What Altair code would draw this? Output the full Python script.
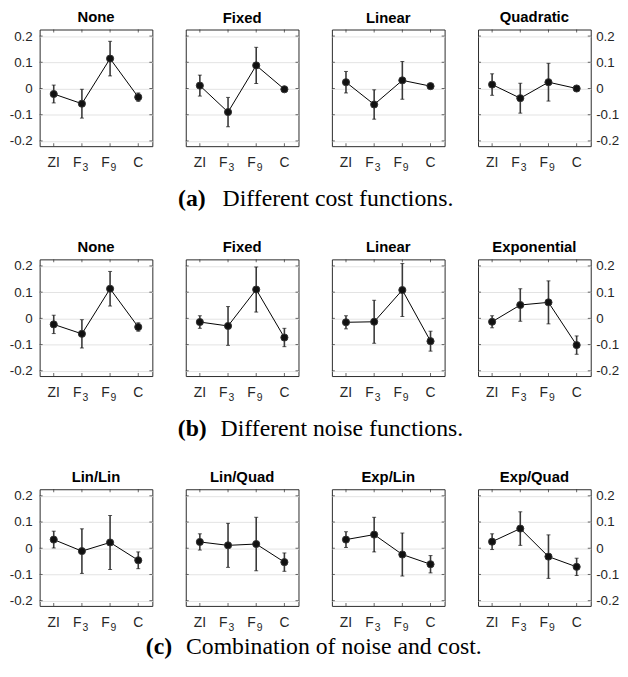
import altair as alt
import pandas as pd

# ---------------- data ----------------
categories = ["ZI", "F3", "F9", "C"]
cat_main = ["ZI", "F", "F", "C"]
cat_sub = ["", "3", "9", ""]
y_ticks = [-0.2, -0.1, 0.0, 0.1, 0.2]

row_a_titles = ["None", "Fixed", "Linear", "Quadratic"]
row_a_means = [
    [-0.021, -0.058, 0.114, -0.033],
    [0.011, -0.090, 0.088, -0.003],
    [0.024, -0.061, 0.031, 0.009],
    [0.015, -0.037, 0.024, 0.000],
]
row_a_errs = [
    [0.034, 0.055, 0.066, 0.016],
    [0.040, 0.056, 0.069, 0.007],
    [0.041, 0.056, 0.072, 0.008],
    [0.041, 0.057, 0.072, 0.008],
]

row_b_titles = ["None", "Fixed", "Linear", "Exponential"]
row_b_means = [
    [-0.023, -0.059, 0.113, -0.033],
    [-0.014, -0.029, 0.110, -0.073],
    [-0.015, -0.013, 0.108, -0.087],
    [-0.013, 0.051, 0.061, -0.102],
]
row_b_errs = [
    [0.035, 0.054, 0.066, 0.016],
    [0.024, 0.074, 0.086, 0.035],
    [0.025, 0.082, 0.101, 0.038],
    [0.023, 0.062, 0.082, 0.035],
]

row_c_titles = ["Lin/Lin", "Lin/Quad", "Exp/Lin", "Exp/Quad"]
row_c_means = [
    [0.033, -0.011, 0.022, -0.046],
    [0.024, 0.011, 0.016, -0.053],
    [0.033, 0.052, -0.024, -0.061],
    [0.025, 0.075, -0.032, -0.071],
]
row_c_errs = [
    [0.032, 0.085, 0.103, 0.032],
    [0.031, 0.084, 0.102, 0.035],
    [0.030, 0.066, 0.082, 0.033],
    [0.030, 0.064, 0.083, 0.033],
]

caption_labels = ["(a)", "(b)", "(c)"]
caption_texts = [
    "Different cost functions.",
    "Different noise functions.",
    "Combination of noise and cost.",
]

# ---------------- layout / style ----------------
W, H = 114, 118
Y_DOMAIN = [-0.22, 0.225]
CAP_LABEL_X = [168, 169, 134]
CAP_TEXT_X = [185, 183, 148]
CAP_Y = [179, 178.5, 167]
DARK = "#262626"
SANS = "Liberation Sans"
SERIF = "Liberation Serif"

label_expr = ("datum.value == 0 ? '0' : (datum.value < 0 ? '-' + format(-datum.value, '.1f')"
              " : format(datum.value, '.1f'))")


def panel(title, means, errs, position, cap_idx=None):
    df = pd.DataFrame({"cat": categories, "main": cat_main, "sub": cat_sub,
                       "mean": means, "err": errs})
    base = alt.Chart(df).transform_calculate(lo="datum.mean - datum.err",
                                             hi="datum.mean + datum.err")
    xscale = alt.Scale(type="point", domain=categories, padding=0.5)
    xenc = alt.X("cat:N", scale=xscale, axis=None)
    yscale = alt.Scale(domain=Y_DOMAIN, nice=False, zero=False)

    if position == "left":
        yaxis = alt.Axis(orient="left", values=y_ticks, labelExpr=label_expr, ticks=False,
                         domain=False, grid=True, labelPadding=7.5, title=None)
    elif position == "right":
        yaxis = alt.Axis(orient="right", values=y_ticks, labelExpr=label_expr, ticks=False,
                         domain=False, grid=True, labelPadding=5, title=None)
    else:
        yaxis = alt.Axis(values=y_ticks, labels=False, ticks=False, domain=False,
                         grid=True, title=None)

    def Y(field):
        return alt.Y(field, scale=yscale, axis=yaxis, title=None)

    line = base.mark_line(color="black", strokeWidth=1).encode(x=xenc, y=Y("mean:Q"))
    rule = base.mark_rule(color="#3a3a3a", strokeWidth=1.6).encode(
        x=xenc, y=Y("lo:Q"), y2="hi:Q")
    cap_lo = base.mark_tick(orient="horizontal", size=4, thickness=1, color="#111").encode(
        x=xenc, y=Y("lo:Q"))
    cap_hi = base.mark_tick(orient="horizontal", size=4, thickness=1, color="#111").encode(
        x=xenc, y=Y("hi:Q"))
    pts = base.mark_point(filled=True, size=52, color="#111", opacity=1,
                          stroke="#333", strokeWidth=1).encode(x=xenc, y=Y("mean:Q"))

    # inner ticks (MATLAB box style)
    tdf = pd.DataFrame({"v": y_ticks})
    xt_top = alt.Chart(df).mark_tick(orient="vertical", size=3, thickness=1, color=DARK).encode(
        x=xenc, y=alt.value(1.5))
    xt_bot = alt.Chart(df).mark_tick(orient="vertical", size=3, thickness=1, color=DARK).encode(
        x=xenc, y=alt.value(H - 1.5))
    yt_l = alt.Chart(tdf).mark_tick(orient="horizontal", size=3, thickness=1, color=DARK).encode(
        y=Y("v:Q"), x=alt.value(1.5))
    yt_r = alt.Chart(tdf).mark_tick(orient="horizontal", size=3, thickness=1, color=DARK).encode(
        y=Y("v:Q"), x=alt.value(W - 1.5))

    # category labels with subscripts
    lab_plain = alt.Chart(df).transform_filter(alt.datum.sub == "").mark_text(
        align="center", baseline="alphabetic", font=SANS, fontSize=14, color=DARK).encode(
        x=xenc, y=alt.value(H + 21), text="main:N")
    lab_f = alt.Chart(df).transform_filter(alt.datum.sub != "").mark_text(
        align="right", baseline="alphabetic", font=SANS, fontSize=14, color=DARK, dx=-0.5).encode(
        x=xenc, y=alt.value(H + 21), text="main:N")
    lab_sub = alt.Chart(df).transform_filter(alt.datum.sub != "").mark_text(
        align="left", baseline="alphabetic", font=SANS, fontSize=10.5, color=DARK, dx=0.5).encode(
        x=xenc, y=alt.value(H + 25), text="sub:N")

    layers = [line, rule, cap_lo, cap_hi, pts, xt_top, xt_bot, yt_l, yt_r,
              lab_plain, lab_f, lab_sub]

    if cap_idx is not None:
        cdf = pd.DataFrame({"label": [caption_labels[cap_idx]],
                            "text": [caption_texts[cap_idx]]})
        c1 = alt.Chart(cdf).mark_text(align="right", baseline="alphabetic", font=SERIF,
                                      fontSize=24, fontWeight="bold", color="black").encode(
            x=alt.value(CAP_LABEL_X[cap_idx]), y=alt.value(CAP_Y[cap_idx]), text="label:N")
        c2 = alt.Chart(cdf).mark_text(align="left", baseline="alphabetic", font=SERIF,
                                      fontSize=24, color="black").encode(
            x=alt.value(CAP_TEXT_X[cap_idx]), y=alt.value(CAP_Y[cap_idx]), text="text:N")
        layers += [c1, c2]

    return alt.layer(*layers).properties(
        width=W, height=H,
        title=alt.TitleParams(text=title, font=SANS, fontSize=15, fontWeight="bold",
                              color="black", offset=4))


def row(titles, means, errs, idx):
    panels = []
    for i in range(4):
        pos = "left" if i == 0 else ("right" if i == 3 else "mid")
        panels.append(panel(titles[i], means[i], errs[i], pos, idx if i == 0 else None))
    return alt.hconcat(*panels, spacing=33.8, bounds="flush")


chart = alt.vconcat(
    row(row_a_titles, row_a_means, row_a_errs, 0),
    row(row_b_titles, row_b_means, row_b_errs, 1),
    row(row_c_titles, row_c_means, row_c_errs, 2),
    spacing=232.5, bounds="flush",
).properties(
    padding={"left": 0, "top": -2, "right": 0, "bottom": 0}, background="white"
).configure_view(
    stroke="#2b2b2b", strokeWidth=1
).configure_axis(
    gridColor="#e3e3e3", gridWidth=1, labelFont=SANS, labelFontSize=13.5, labelColor=DARK
)

chart.save("out.html", embed_options={"renderer": "svg", "actions": False})
